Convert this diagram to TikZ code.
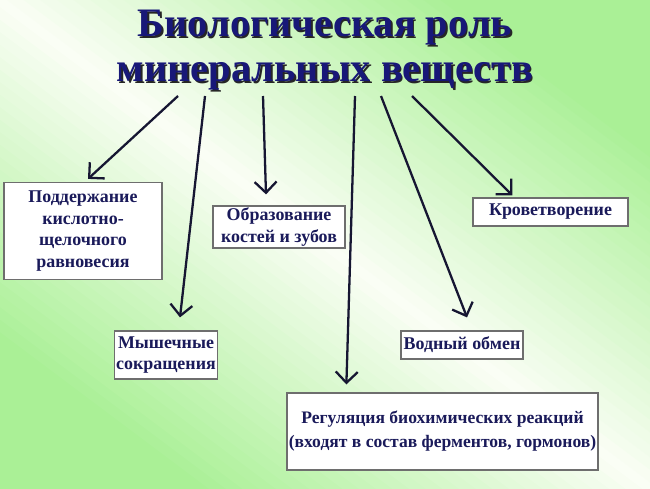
\documentclass[tikz,border=0pt]{standalone}
\usepackage{fontspec}
\setmainfont{Liberation Serif}[BoldFont={Liberation Serif Bold}]
\usetikzlibrary{arrows.meta,positioning}
\definecolor{navy}{RGB}{24,24,120}
\definecolor{ink}{RGB}{26,26,90}
\definecolor{wire}{RGB}{22,22,50}
\definecolor{frame}{RGB}{110,110,110}
\definecolor{meadow}{RGB}{170,240,150}
\definecolor{haze}{RGB}{250,254,245}
\tikzset{
  >={Straight Barb[length=2.2mm,width=4.4mm]},
  role/.style={draw=frame,fill=white,line width=0.7pt,align=center,text=ink,
    font=\bfseries\fontsize{10.2}{12.4}\selectfont,inner sep=1pt},
  flow/.style={->,line width=1.3pt,draw=wire},
  heading/.style={align=center,font=\bfseries\fontsize{23}{25.6}\selectfont},
}
\begin{document}
\begin{tikzpicture}
  \useasboundingbox (0,0) rectangle (13,-9.76);
  % background: pale band from top left to bottom right
  \begin{scope}
    \clip (0,0) rectangle (13,-9.76);
    \begin{scope}[shift={(6.5,-4.88)},rotate=53.13]
      \foreach \u in {-40,...,40} {
        \pgfmathtruncatemacro\p{min(100,abs(\u)/27*100)}
        \fill[meadow!\p!haze] (\u/5-0.11,-9) rectangle (\u/5+0.11,9);
      }
    \end{scope}
  \end{scope}
  % title
  \node[heading,text=black!85] (shadow) at (6.53,-1.05) {Биологическая роль\\минеральных веществ};
  \node[heading,text=navy] (title) at (6.5,-1.01) {Биологическая роль\\минеральных веществ};
  % roles
  \node[role,minimum width=3.16cm,minimum height=1.94cm] (bal) at (1.66,-4.62) {Поддержание\\кислотно-\\щелочного\\равновесия};
  \node[role,minimum width=2.64cm,minimum height=0.84cm] (bone) at (5.58,-4.54) {Образование\\костей и зубов};
  \node[role,minimum width=3.1cm,minimum height=0.56cm] (blood) at (11.01,-4.24) {Кроветворение};
  \node[role,minimum width=2.04cm,minimum height=0.96cm] (muscle) at (3.32,-7.1) {Мышечные\\сокращения};
  \node[role,minimum width=2.44cm,minimum height=0.56cm] (water) at (9.24,-6.9) {Водный обмен};
  \node[role,minimum width=5.98cm,minimum height=1.54cm,font=\bfseries\fontsize{10}{13.6}\selectfont] (reg) at (8.85,-8.63)
    {Регуляция биохимических реакций\\(входят в состав ферментов, гормонов)};
  % arrows
  \foreach \n/\x in {1/3.56,2/4.1,3/5.26,4/7.1,5/7.62,6/8.24}
    \coordinate (s\n) at (\x,-1.92);
  \draw[flow] (s1) -- ([xshift=1mm,yshift=0.6mm]bal.north);
  \draw[flow] (s2) -- ([xshift=2.8mm,yshift=2.6mm]muscle.north);
  \draw[flow] (s3) -- ([xshift=-2.6mm,yshift=2.2mm]bone.north);
  \draw[flow] (s4) -- ([xshift=12mm,yshift=1.6mm]reg.north west);
  \draw[flow] (s5) -- ([xshift=1mm,yshift=2.6mm]water.north);
  \draw[flow] (s6) -- ([xshift=8mm,yshift=0.4mm]blood.north west);
\end{tikzpicture}
\end{document}
